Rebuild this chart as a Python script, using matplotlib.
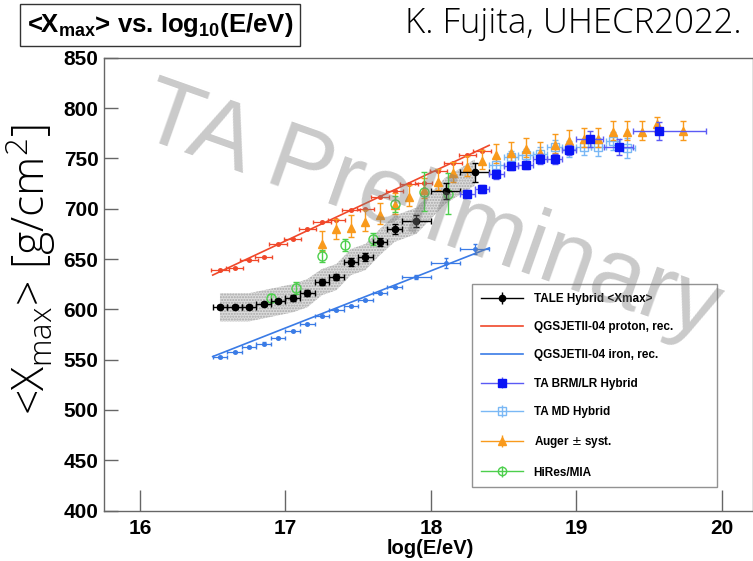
import matplotlib
matplotlib.use('Agg')
import matplotlib.pyplot as plt
from matplotlib.lines import Line2D
import numpy as np

# ---------------- data ----------------
# TALE Hybrid <Xmax>
tale_x = [16.55, 16.65, 16.75, 16.85, 16.95, 17.05, 17.15, 17.25, 17.35, 17.45, 17.55, 17.65, 17.75, 17.9, 18.1, 18.3]
tale_y = [602, 602, 602, 605, 608, 611, 616, 627, 632, 647, 652, 667, 680, 688, 718, 736]
tale_xerr = [0.05, 0.05, 0.05, 0.05, 0.05, 0.05, 0.05, 0.05, 0.05, 0.05, 0.05, 0.05, 0.05, 0.1, 0.1, 0.1]
tale_yerr = [2, 2, 2, 2, 2, 3, 3, 3, 3, 4, 4, 4, 5, 6, 8, 9]
tale_sys = [14, 14, 14, 14, 14, 14, 14, 13, 13, 13, 13, 13, 13, 13, 13, 13]

# QGSJETII-04 proton, reconstructed
proton_x = [16.55, 16.65, 16.75, 16.85, 16.95, 17.05, 17.15, 17.25, 17.35, 17.45, 17.55, 17.65, 17.75, 17.85, 17.95, 18.05, 18.15, 18.25, 18.35]
proton_y = [639, 641, 649, 652, 665, 670, 680, 687, 689, 699, 700, 712, 718, 725, 726, 737, 745, 753, 757]
proton_line_x = [16.5, 18.4]
proton_line_y = [634, 763]

# QGSJETII-04 iron, reconstructed
iron_x = [16.55, 16.65, 16.75, 16.85, 16.95, 17.05, 17.15, 17.25, 17.35, 17.45, 17.55, 17.65, 17.75, 17.9, 18.1, 18.3]
iron_y = [553, 558, 563, 566, 571, 578, 585, 593, 599, 603, 609, 616, 622, 632, 646, 660]
iron_xerr = [0.05, 0.05, 0.05, 0.05, 0.05, 0.05, 0.05, 0.05, 0.05, 0.05, 0.05, 0.05, 0.05, 0.1, 0.1, 0.1]
iron_yerr = [1, 1, 1, 1, 1, 1, 1, 1, 1, 1, 1, 1, 1, 2, 5, 5]
iron_line_x = [16.5, 18.4]
iron_line_y = [553, 661]

# TA BRM/LR Hybrid
brm_x = [18.25, 18.35, 18.45, 18.55, 18.65, 18.75, 18.85, 18.95, 19.09, 19.29, 19.57]
brm_y = [715, 720, 734, 742, 743, 749, 749, 758, 769, 761, 777]
brm_xerr_lo = [0.05, 0.05, 0.05, 0.05, 0.05, 0.05, 0.05, 0.05, 0.09, 0.1, 0.18]
brm_xerr_hi = [0.05, 0.05, 0.05, 0.05, 0.05, 0.05, 0.05, 0.05, 0.09, 0.1, 0.32]
brm_yerr = [4, 4, 4, 4, 4, 5, 5, 5, 8, 8, 9]

# TA MD Hybrid
md_x = [18.45, 18.55, 18.65, 18.75, 18.85, 18.95, 19.05, 19.15, 19.25, 19.35]
md_y = [743, 751, 753, 754, 761, 759, 761, 761, 767, 760]
md_yerr = [6, 6, 6, 7, 7, 8, 8, 9, 9, 10]

# Auger +- syst.
auger_x = [17.25, 17.35, 17.45, 17.55, 17.65, 17.75, 17.85, 17.95, 18.05, 18.15, 18.25, 18.35, 18.45,
           18.55, 18.65, 18.75, 18.85, 18.95, 19.05, 19.15, 19.25, 19.35, 19.45, 19.55, 19.73]
auger_y = [665, 680, 681, 687, 694, 704, 712, 719, 727, 735, 741, 747, 753,
           755, 759, 755, 763, 767, 769, 769, 776, 776, 776, 784, 777]
auger_err_lo = [7, 10, 9, 9, 9, 9, 9, 8, 8, 8, 8, 8, 8, 8, 8, 8, 8, 8, 8, 8, 8, 8, 8, 8, 9]
auger_err_hi = [13, 10, 13, 12, 12, 12, 12, 12, 12, 11, 11, 11, 11, 11, 11, 11, 11, 11, 11, 11, 11, 11, 11, 7, 10]

# HiRes/MIA
hires_x = [16.9, 17.07, 17.25, 17.41, 17.6, 17.75, 17.95, 18.12]
hires_y = [611, 621, 653, 664, 670, 705, 717, 715]
hires_yerr = [4, 6, 6, 6, 6, 8, 19, 20]

xticks = [16, 17, 18, 19, 20]
yticks = [400, 450, 500, 550, 600, 650, 700, 750, 800, 850]

# ---------------- style ----------------
BOLDF = ['Liberation Sans Narrow', 'Liberation Sans', 'DejaVu Sans']
LIGHT = ['Open Sans', 'DejaVu Sans']
C_PROTON = '#f0482a'
C_IRON = '#3a7be6'
C_BRM = '#0a14f5'
C_BRM_BAR = '#5a5af5'
C_MD = '#7ab8f5'
C_AUGER = '#f99a1c'
C_HIRES = '#4ccf4c'

fig = plt.figure(figsize=(7.53, 5.61), dpi=100)
ax = fig.add_axes([104/753, 1 - 510.5/561, 649/753, (510.5 - 57.8)/561])
ax.set_xlim(15.753, 20.213)
ax.set_ylim(400, 850)

# systematic band
tx = np.array(tale_x)
ty = np.array(tale_y)
ts = np.array(tale_sys)
ax.fill_between(tx, ty - ts, ty + ts, facecolor='#dcdcdc', edgecolor='#a8a8a8',
                hatch='......', linewidth=0, zorder=1)

# model lines
ax.plot(proton_line_x, proton_line_y, color=C_PROTON, lw=1.2, zorder=2)
ax.errorbar(proton_x, proton_y, xerr=0.06, yerr=1, fmt='o', ms=2.5, color=C_PROTON,
            elinewidth=0.9, capsize=1.5, zorder=2)
ax.plot(iron_line_x, iron_line_y, color=C_IRON, lw=1.2, zorder=2)
ax.errorbar(iron_x, iron_y, xerr=iron_xerr, yerr=iron_yerr, fmt='o', ms=2.5, color=C_IRON,
            elinewidth=0.9, capsize=1.5, zorder=2)

# data sets
ax.errorbar(tale_x, tale_y, xerr=tale_xerr, yerr=tale_yerr, fmt='o', ms=4.5,
            color='black', elinewidth=1, capsize=2, zorder=4)
ax.errorbar(brm_x, brm_y, xerr=[brm_xerr_lo, brm_xerr_hi], yerr=brm_yerr, fmt='s', ms=6,
            mfc=C_BRM, mec=C_BRM, ecolor=C_BRM_BAR, elinewidth=1, capsize=2, zorder=4)
ax.errorbar(md_x, md_y, xerr=0.05, yerr=md_yerr, fmt='s', ms=6, mfc='none', mec=C_MD,
            ecolor=C_MD, elinewidth=1, capsize=2, zorder=3)
ax.errorbar(auger_x, auger_y, yerr=[auger_err_lo, auger_err_hi], fmt='^', ms=6,
            color=C_AUGER, elinewidth=1, capsize=2, zorder=3)
ax.errorbar(hires_x, hires_y, yerr=hires_yerr, fmt='o', ms=6.5, mfc='none',
            mec=C_HIRES, ecolor=C_HIRES, elinewidth=1, capsize=2, zorder=3)

# legend (ROOT-like: horizontal line through marker with vertical error bar)
def lep(container, color):
    return (Line2D([], [], color=color, lw=1.0), container)

def proxy(marker, mfc, mec, ecolor, ms):
    return ax.errorbar([], [], yerr=[], fmt=marker, ms=ms, mfc=mfc, mec=mec,
                       ecolor=ecolor, elinewidth=1, capsize=2.5)

p_tale = proxy('o', 'black', 'black', 'black', 4.5)
p_brm = proxy('s', C_BRM, C_BRM, C_BRM_BAR, 6)
p_md = proxy('s', 'none', C_MD, C_MD, 6)
p_auger = proxy('^', C_AUGER, C_AUGER, C_AUGER, 6)
p_hires = proxy('o', 'none', C_HIRES, C_HIRES, 6)

h_p = Line2D([], [], color=C_PROTON, lw=1.2)
h_i = Line2D([], [], color=C_IRON, lw=1.2)
leg_handles = [lep(p_tale, 'black'), h_p, h_i, lep(p_brm, C_BRM_BAR), lep(p_md, C_MD),
               lep(p_auger, C_AUGER), lep(p_hires, C_HIRES)]
leg_labels = ['TALE Hybrid <Xmax>', 'QGSJETII-04 proton, rec.', 'QGSJETII-04 iron, rec.',
              'TA BRM/LR Hybrid', 'TA MD Hybrid', 'Auger $\\pm$ syst.', 'HiRes/MIA']
leg = fig.legend(leg_handles, leg_labels, loc='upper left',
                 bbox_to_anchor=(471.7/753, 1 - 482.3/561, 245/753, 198.3/561),
                 mode='expand', borderaxespad=0, frameon=True, fancybox=False,
                 prop={'family': ['Liberation Sans', 'DejaVu Sans'], 'weight': 'bold', 'size': 8.5},
                 labelspacing=1.38, handlelength=3.6, handletextpad=0.9, borderpad=0.75)
leg.get_frame().set_edgecolor('#777777')
leg.get_frame().set_linewidth(1.0)
leg.set_zorder(5)

# axes style
for s in ax.spines.values():
    s.set_color('#666666')
    s.set_linewidth(1.0)
ax.set_xticks(xticks)
ax.set_yticks(yticks)
ax.tick_params(axis='x', direction='in', length=15, width=1, color='#666666', pad=6)
ax.tick_params(axis='y', direction='in', length=10, width=1, color='#666666', pad=4)
for lab in ax.get_xticklabels() + ax.get_yticklabels():
    lab.set_fontfamily(BOLDF)
    lab.set_fontweight('bold')
    lab.set_fontsize(15)
fig.text(430/753, 1 - 549/561, 'log(E/eV)', ha='center', va='center',
         fontfamily=BOLDF, fontweight='bold', fontsize=14.5)

fig.text(31/753, 1 - 270/561, r'<X$_\mathregular{max}$> [g/cm$^\mathregular{2}$]',
         rotation=90, ha='center', va='center', fontfamily=LIGHT, fontweight='light', fontsize=32)

# title box and author
fig.text(160/753, 1 - 25/561, r'<X$_\mathregular{max}$> vs. log$_\mathregular{10}$(E/eV)',
         ha='center', va='center', fontfamily=BOLDF, fontweight='bold', fontsize=18.5,
         bbox=dict(boxstyle='square,pad=0.28', fc='white', ec='#333333', lw=1))
fig.text(573/753, 1 - 24/561, 'K. Fujita, UHECR2022.', ha='center', va='center',
         fontfamily=LIGHT, fontweight='light', fontsize=25)

# watermark
fig.text(430/753, 1 - 213/561, 'TA Preliminary', rotation=-19.5, rotation_mode='anchor',
         ha='center', va='center', fontfamily=['Liberation Sans', 'DejaVu Sans'], fontsize=68,
         color='#7a7a7a', alpha=0.4, zorder=10)

fig.savefig('out.png', dpi=100)
